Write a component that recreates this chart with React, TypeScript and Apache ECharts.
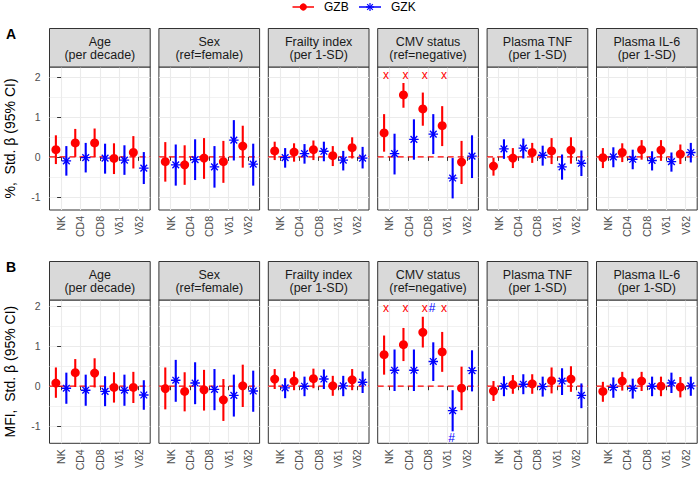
import React, { useEffect, useRef } from 'react';
import * as echarts from 'echarts';

// ---------- data ----------
const cells = ['NK', 'CD4', 'CD8', 'Vδ1', 'Vδ2'];
const groups = ['GZB', 'GZK'];
const facetTitles = ['Age', 'Sex', 'Frailty index', 'CMV status', 'Plasma TNF', 'Plasma IL-6'];
const facetUnits = ['(per decade)', '(ref=female)', '(per 1-SD)', '(ref=negative)', '(per 1-SD)', '(per 1-SD)'];
const rowTitles = ['%,  Std. β (95% CI)', 'MFI,  Std. β (95% CI)'];
const rowTags = ['A', 'B'];
const yTicks = [-1, 0, 1, 2];
const yMinorTicks = [-0.5, 0.5, 1.5];

// Panel A (%), GZB
const pctGzbEst = [
  [0.18, 0.35, 0.35, -0.04, 0.11],
  [-0.12, -0.2, -0.03, -0.12, 0.27],
  [0.15, 0.12, 0.18, 0.03, 0.23],
  [0.6, 1.55, 1.2, 0.78, -0.13],
  [-0.23, -0.03, 0.11, 0.15, 0.17],
  [-0.02, 0.11, 0.18, 0.17, 0.07],
];
const pctGzbLo = [
  [-0.18, 0.0, 0.0, -0.43, -0.29],
  [-0.62, -0.7, -0.55, -0.65, -0.27],
  [-0.08, -0.12, -0.08, -0.23, -0.04],
  [0.13, 1.23, 0.78, 0.27, -0.68],
  [-0.47, -0.28, -0.15, -0.18, -0.17],
  [-0.28, -0.13, -0.07, -0.1, -0.18],
];
const pctGzbHi = [
  [0.54, 0.7, 0.71, 0.34, 0.52],
  [0.37, 0.29, 0.47, 0.4, 0.78],
  [0.38, 0.34, 0.41, 0.27, 0.49],
  [1.07, 1.85, 1.61, 1.27, 0.4],
  [-0.02, 0.22, 0.35, 0.47, 0.49],
  [0.22, 0.34, 0.42, 0.42, 0.31],
];
// Panel A (%), GZK
const pctGzkEst = [
  [-0.1, -0.02, -0.03, -0.08, -0.28],
  [-0.2, -0.07, -0.25, 0.42, -0.18],
  [-0.02, 0.08, 0.14, -0.08, -0.03],
  [0.08, 0.44, 0.57, -0.53, 0.02],
  [0.2, 0.22, 0.04, -0.25, -0.16],
  [0.0, -0.06, -0.09, -0.12, 0.11],
];
const pctGzkLo = [
  [-0.47, -0.39, -0.42, -0.45, -0.68],
  [-0.72, -0.58, -0.77, -0.09, -0.72],
  [-0.27, -0.17, -0.11, -0.34, -0.29],
  [-0.44, -0.07, 0.07, -1.04, -0.53],
  [-0.05, -0.04, -0.22, -0.57, -0.48],
  [-0.26, -0.31, -0.34, -0.37, -0.14],
];
const pctGzkHi = [
  [0.27, 0.35, 0.33, 0.29, 0.12],
  [0.31, 0.44, 0.27, 0.92, 0.33],
  [0.22, 0.32, 0.38, 0.15, 0.25],
  [0.58, 0.94, 1.07, -0.03, 0.54],
  [0.44, 0.46, 0.28, 0.06, 0.16],
  [0.24, 0.18, 0.14, 0.11, 0.35],
];
// Panel B (MFI), GZB
const mfiGzbEst = [
  [0.08, 0.34, 0.33, -0.03, -0.03],
  [-0.06, -0.13, -0.09, -0.34, 0.01],
  [0.18, 0.13, 0.19, 0.01, 0.16],
  [0.79, 1.04, 1.35, 0.86, -0.05],
  [-0.12, 0.04, 0.06, 0.14, 0.18],
  [-0.13, 0.13, 0.13, 0.0, -0.02],
];
const mfiGzbLo = [
  [-0.29, -0.02, -0.03, -0.41, -0.42],
  [-0.58, -0.63, -0.61, -0.87, -0.52],
  [-0.07, -0.1, -0.05, -0.24, -0.1],
  [0.29, 0.63, 0.97, 0.36, -0.6],
  [-0.37, -0.19, -0.19, -0.18, -0.14],
  [-0.39, -0.11, -0.12, -0.25, -0.28],
];
const mfiGzbHi = [
  [0.47, 0.68, 0.7, 0.35, 0.36],
  [0.47, 0.35, 0.41, 0.18, 0.54],
  [0.43, 0.37, 0.44, 0.26, 0.43],
  [1.27, 1.46, 1.74, 1.36, 0.49],
  [0.13, 0.28, 0.3, 0.47, 0.5],
  [0.11, 0.36, 0.36, 0.24, 0.23],
];
// Panel B (MFI), GZK
const mfiGzkEst = [
  [-0.05, -0.1, -0.13, -0.1, -0.22],
  [0.15, 0.08, -0.08, -0.23, -0.12],
  [-0.04, 0.0, 0.18, 0.01, 0.1],
  [0.4, 0.4, 0.62, -0.61, 0.39],
  [0.0, 0.05, -0.01, 0.13, -0.23],
  [-0.03, -0.05, 0.0, 0.08, 0.01],
];
const mfiGzkLo = [
  [-0.44, -0.49, -0.5, -0.49, -0.59],
  [-0.39, -0.45, -0.6, -0.76, -0.64],
  [-0.3, -0.25, -0.07, -0.25, -0.17],
  [-0.12, -0.12, 0.13, -1.13, -0.13],
  [-0.25, -0.2, -0.26, -0.22, -0.55],
  [-0.29, -0.31, -0.25, -0.17, -0.24],
];
const mfiGzkHi = [
  [0.34, 0.29, 0.25, 0.29, 0.15],
  [0.66, 0.6, 0.43, 0.29, 0.39],
  [0.2, 0.24, 0.42, 0.26, 0.37],
  [0.92, 0.92, 1.1, -0.1, 0.9],
  [0.25, 0.3, 0.24, 0.45, 0.07],
  [0.22, 0.19, 0.24, 0.34, 0.24],
];

// significance marks (facet index, cell, group, text, y value)
const pctMarks = [
  { facet: 3, cell: 'NK', group: 'GZB', text: 'x', y: 2.05 },
  { facet: 3, cell: 'CD4', group: 'GZB', text: 'x', y: 2.05 },
  { facet: 3, cell: 'CD8', group: 'GZB', text: 'x', y: 2.05 },
  { facet: 3, cell: 'Vδ1', group: 'GZB', text: 'x', y: 2.05 },
];
const mfiMarks = [
  { facet: 3, cell: 'NK', group: 'GZB', text: 'x', y: 1.97 },
  { facet: 3, cell: 'CD4', group: 'GZB', text: 'x', y: 1.97 },
  { facet: 3, cell: 'CD8', group: 'GZB', text: 'x', y: 1.97 },
  { facet: 3, cell: 'CD8', group: 'GZK', text: '#', y: 1.97 },
  { facet: 3, cell: 'Vδ1', group: 'GZB', text: 'x', y: 1.97 },
  { facet: 3, cell: 'Vδ1', group: 'GZK', text: '#', y: -1.3 },
];

// ---------- layout / style ----------
const FONT = 'Liberation Sans, Arial, Helvetica, sans-serif';
const RED = '#FF0000';
const BLUE = '#0000FF';
const GROUP_COLORS = [RED, BLUE];
const DODGE = 0.27;
const MARK_DODGE = [-0.17, 0.21];
const X_MIN = -0.6;
const X_MAX = 4.6;
const PANEL_LEFT0 = 49.5;
const PANEL_STRIDE = 109.4;
const PANEL_W = 100.7;
const ROW_TOP = [67, 300];
const ROW_H = [143, 143.3];
const STRIP_H = 38.5;
const ROW_YMIN = [-1.33, -1.43];
const ROW_YMAX = [2.25, 2.16];

function asteriskPath(r: number, w: number) {
  const parts: string[] = [];
  for (const deg of [0, 45, 90, 135]) {
    const a = (deg * Math.PI) / 180;
    const c = Math.cos(a);
    const s = Math.sin(a);
    const px = -s * w;
    const py = c * w;
    const pts = [
      [r * c + px, r * s + py],
      [-r * c + px, -r * s + py],
      [-r * c - px, -r * s - py],
      [r * c - px, r * s - py],
    ];
    parts.push('M' + pts.map((p) => p[0].toFixed(3) + ' ' + p[1].toFixed(3)).join(' L') + ' Z');
  }
  return 'path://' + parts.join(' ');
}
const ASTERISK = asteriskPath(10, 1.4);

const rowsData = [
  { est: [pctGzbEst, pctGzkEst], lo: [pctGzbLo, pctGzkLo], hi: [pctGzbHi, pctGzkHi], marks: pctMarks },
  { est: [mfiGzbEst, mfiGzkEst], lo: [mfiGzbLo, mfiGzkLo], hi: [mfiGzbHi, mfiGzkHi], marks: mfiMarks },
];

function buildOption() {
  const grid: any[] = [];
  const xAxis: any[] = [];
  const yAxis: any[] = [];
  const series: any[] = [];
  const graphic: any[] = [];
  const catIdx = cells.map((_, i) => i);

  rowsData.forEach((row, r) => {
    facetTitles.forEach((title, c) => {
      const g = r * facetTitles.length + c;
      const left = PANEL_LEFT0 + c * PANEL_STRIDE;
      grid.push({
        left,
        top: ROW_TOP[r],
        width: PANEL_W,
        height: ROW_H[r],
        show: true,
        borderColor: '#333333',
        borderWidth: 1,
        backgroundColor: '#FFFFFF',
      });
      xAxis.push({
        gridIndex: g,
        type: 'value',
        min: X_MIN,
        max: X_MAX,
        axisLine: { show: false },
        axisTick: { show: true, length: 4, lineStyle: { color: '#333333' }, customValues: catIdx },
        axisLabel: {
          show: true,
          customValues: catIdx,
          formatter: (v: number) => cells[Math.round(v)] ?? '',
          rotate: 90,
          fontSize: 10.5,
          fontFamily: FONT,
          color: '#4D4D4D',
          margin: 6,
        },
        splitLine: { show: true, lineStyle: { color: '#EBEBEB', width: 1.1 } },
      });
      yAxis.push({
        gridIndex: g,
        type: 'value',
        min: ROW_YMIN[r],
        max: ROW_YMAX[r],
        axisLine: { show: false },
        axisTick: { show: c === 0, length: 4, lineStyle: { color: '#333333' }, customValues: yTicks },
        axisLabel: {
          show: c === 0,
          customValues: yTicks,
          formatter: (v: number) => String(v),
          fontSize: 10.5,
          fontFamily: FONT,
          color: '#4D4D4D',
          margin: 9,
        },
        splitLine: { show: true, lineStyle: { color: '#EBEBEB', width: 1.1 } },
      });
      yAxis.push({
        gridIndex: g,
        type: 'value',
        position: 'left',
        min: ROW_YMIN[r],
        max: ROW_YMAX[r],
        axisLine: { show: false },
        axisTick: { show: false, customValues: yMinorTicks },
        axisLabel: { show: false, customValues: yMinorTicks },
        splitLine: { show: true, lineStyle: { color: '#EFEFEF', width: 0.8 } },
      });

      // zero reference line
      series.push({
        type: 'line',
        xAxisIndex: g,
        yAxisIndex: 2 * g,
        data: [
          [X_MIN, 0],
          [X_MAX, 0],
        ],
        symbol: 'none',
        silent: true,
        z: 1,
        lineStyle: { color: RED, width: 1.3, type: [6, 4] },
      });

      groups.forEach((grp, k) => {
        const off = k === 0 ? -DODGE : DODGE;
        const color = GROUP_COLORS[k];
        series.push({
          type: 'custom',
          name: grp,
          xAxisIndex: g,
          yAxisIndex: 2 * g,
          z: 2,
          silent: true,
          data: cells.map((_, i) => [i + off, row.lo[k][c][i], row.hi[k][c][i]]),
          encode: { x: 0, y: [1, 2] },
          renderItem: (params: any, api: any) => {
            const p1 = api.coord([api.value(0), api.value(1)]);
            const p2 = api.coord([api.value(0), api.value(2)]);
            return {
              type: 'line',
              shape: { x1: p1[0], y1: p1[1], x2: p2[0], y2: p2[1] },
              style: { stroke: color, lineWidth: 2.1 },
            };
          },
        });
        series.push({
          type: 'scatter',
          name: grp,
          xAxisIndex: g,
          yAxisIndex: 2 * g,
          z: 3,
          silent: true,
          symbol: k === 0 ? 'circle' : ASTERISK,
          symbolSize: k === 0 ? 9 : 9.5,
          itemStyle: { color, opacity: 1 },
          data: cells.map((_, i) => [i + off, row.est[k][c][i]]),
        });
      });

      const marks = row.marks.filter((m) => m.facet === c);
      if (marks.length) {
        series.push({
          type: 'custom',
          xAxisIndex: g,
          yAxisIndex: 2 * g,
          z: 4,
          silent: true,
          data: marks.map((m) => [cells.indexOf(m.cell) + MARK_DODGE[groups.indexOf(m.group)], m.y]),
          encode: { x: 0, y: 1 },
          renderItem: (params: any, api: any) => {
            const m = marks[params.dataIndex];
            const p = api.coord([api.value(0), api.value(1)]);
            return {
              type: 'text',
              x: p[0],
              y: p[1],
              style: {
                text: m.text,
                fill: GROUP_COLORS[groups.indexOf(m.group)],
                fontSize: 12,
                fontFamily: FONT,
                align: 'center',
                verticalAlign: 'middle',
              },
            };
          },
        });
      }

      // strip
      const stripTop = ROW_TOP[r] - STRIP_H;
      graphic.push({
        type: 'rect',
        shape: { x: left, y: stripTop, width: PANEL_W, height: STRIP_H },
        style: { fill: '#D9D9D9', stroke: '#333333', lineWidth: 1 },
        z: 10,
        silent: true,
      });
      graphic.push({
        type: 'text',
        x: left + PANEL_W / 2,
        y: stripTop + STRIP_H / 2 + 0.5,
        z: 11,
        silent: true,
        style: {
          text: title + '\n' + facetUnits[c],
          fontSize: 12.5,
          lineHeight: 13.5,
          fontFamily: FONT,
          fill: '#1A1A1A',
          align: 'center',
          verticalAlign: 'middle',
        },
      });
    });

    // row title and tag
    graphic.push({
      type: 'text',
      x: 10,
      y: ROW_TOP[r] + ROW_H[r] / 2,
      rotation: Math.PI / 2,
      silent: true,
      style: {
        text: rowTitles[r],
        fontSize: 14,
        fontFamily: FONT,
        fill: '#000000',
        align: 'center',
        verticalAlign: 'middle',
      },
    });
    graphic.push({
      type: 'text',
      x: 6,
      y: ROW_TOP[r] - STRIP_H + 5,
      silent: true,
      style: {
        text: rowTags[r],
        fontSize: 14,
        fontWeight: 'bold',
        fontFamily: FONT,
        fill: '#000000',
        align: 'left',
        verticalAlign: 'middle',
      },
    });
  });

  // legend (drawn)
  const ly = 7;
  graphic.push({ type: 'line', shape: { x1: 292.5, y1: ly, x2: 314, y2: ly }, style: { stroke: RED, lineWidth: 1.5 } });
  graphic.push({ type: 'circle', shape: { cx: 303.3, cy: ly, r: 3.6 }, style: { fill: RED } });
  graphic.push({
    type: 'text',
    x: 324,
    y: ly,
    style: { text: groups[0], fontSize: 12, fontFamily: FONT, fill: '#000', align: 'left', verticalAlign: 'middle' },
  });
  graphic.push({ type: 'line', shape: { x1: 359, y1: ly, x2: 381, y2: ly }, style: { stroke: BLUE, lineWidth: 1.5 } });
  [0, 45, 90, 135].forEach((deg) => {
    const a = (deg * Math.PI) / 180;
    const rr = 4;
    graphic.push({
      type: 'line',
      shape: { x1: 370 - rr * Math.cos(a), y1: ly - rr * Math.sin(a), x2: 370 + rr * Math.cos(a), y2: ly + rr * Math.sin(a) },
      style: { stroke: BLUE, lineWidth: 1.2 },
    });
  });
  graphic.push({
    type: 'text',
    x: 391,
    y: ly,
    style: { text: groups[1], fontSize: 12, fontFamily: FONT, fill: '#000', align: 'left', verticalAlign: 'middle' },
  });

  return {
    animation: false,
    backgroundColor: '#FFFFFF',
    textStyle: { fontFamily: FONT },
    grid,
    xAxis,
    yAxis,
    series,
    graphic,
  };
}

export default function App() {
  const ref = useRef<HTMLDivElement>(null);
  useEffect(() => {
    if (!ref.current) return;
    const chart = echarts.init(ref.current, undefined, { renderer: 'svg' });
    chart.setOption(buildOption() as any);
    return () => chart.dispose();
  }, []);
  return (
    <div
      ref={ref}
      style={{ position: 'absolute', left: 0, top: 0, width: 699, height: 478, background: '#fff' }}
    />
  );
}
